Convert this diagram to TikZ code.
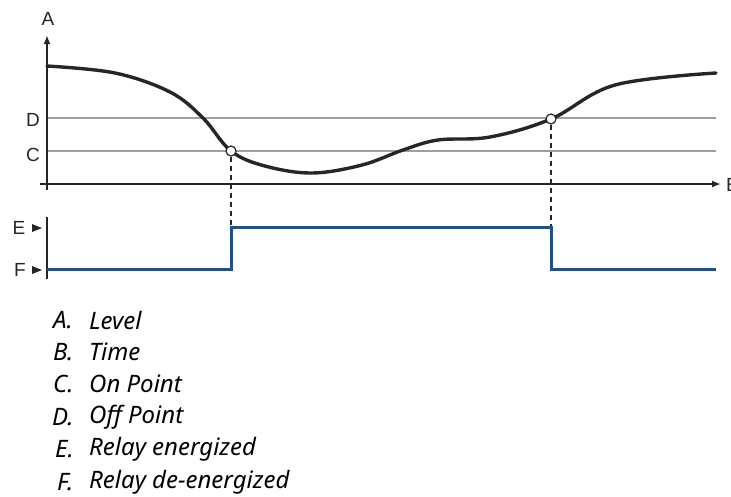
\documentclass[tikz,border=0pt]{standalone}
\usepackage{fontspec}
\setmainfont{Liberation Sans}
\newfontfamily\legendfont{Noto Sans}
\usepackage{xcolor}
\usetikzlibrary{arrows.meta,positioning}

\definecolor{inkgray}{HTML}{262626}
\definecolor{relayblue}{HTML}{1F4F8F}

\begin{document}
\begin{tikzpicture}[
  x=1pt, y=-1pt,
  axis/.style={draw=inkgray, line width=2pt, -{Latex[length=9pt,width=7pt]}},
  setline/.style={draw=gray!75, line width=1.4pt},
  level/.style={draw=inkgray, line width=3.4pt, line cap=round},
  relay/.style={draw=relayblue, line width=3pt},
  switchpt/.style={circle, draw=inkgray, fill=white, line width=1.2pt,
                   minimum size=10pt, inner sep=0pt},
  guide/.style={draw=inkgray, line width=1.1pt, dash pattern=on 5pt off 4pt},
  axlabel/.style={font=\fontsize{19}{19}\selectfont, inner sep=0pt, text=inkgray},
  legkey/.style={anchor=west, inner sep=0pt, font=\legendfont\itshape\fontsize{24}{24}\selectfont},
  legtext/.style={anchor=west, inner sep=0pt, font=\legendfont\itshape\fontsize{24}{24}\selectfont}
]
\useasboundingbox (0,0) rectangle (731,496);

% level chart
\coordinate (yfoot) at (47,190);
\coordinate (ytop) at (47,35);
\coordinate (xleft) at (40,184);
\coordinate (xright) at (721,184);
\coordinate (dleft) at (47,118);
\coordinate (dright) at (716,118);
\coordinate (cleft) at (47,151);
\coordinate (cright) at (716,151);
\draw[setline] (dleft) -- (dright);
\draw[setline] (cleft) -- (cright);
\draw[axis] (yfoot) -- (ytop);
\draw[axis] (xleft) -- (xright);
\node[axlabel] (lA) at (48,19) {A};
\node[axlabel, anchor=west] (lB) at (726,185) {B};
\node[axlabel] (lD) at (33,120) {D};
\node[axlabel] (lC) at (33,155) {C};

\draw[level] plot[smooth, tension=0.6] coordinates {
  (47,66) (115,73) (170,92) (203,118) (231,151)
  (265,166) (312,173) (362,165) (403,150) (438,140) (490,137)
  (551,119) (615,85) (716,73)};

\node[switchpt] (on) at (231,151) {};
\node[switchpt] (off) at (551,119) {};

% relay state
\coordinate (start) at (47,269);
\coordinate (up0) at (231,269);
\coordinate (up1) at (231,227);
\coordinate (dn0) at (551,227);
\coordinate (dn1) at (551,269);
\coordinate (stop) at (716,269);
\draw[guide] (on.south) -- (up1);
\draw[guide] (off.south) -- (dn0);
\draw[draw=inkgray, line width=1.5pt] (47,217) -- (47,279);
\draw[relay] (start) -- (up0) -- (up1) -- (dn0) -- (dn1) -- (stop);
\node[axlabel] (lE) at (19,228) {E};
\node[axlabel] (lF) at (20,270) {F};
\fill[inkgray] (32,224) -- (42,228) -- (32,232) -- cycle;
\fill[inkgray] (32,266) -- (42,270) -- (32,274) -- cycle;

% legend
\node[legkey] (kA) at (53,320) {A.};
\node[legtext] (tA) at (89,320) {Level};
\node[legkey] (kB) at (53,352) {B.};
\node[legtext] (tB) at (89,352) {Time};
\node[legkey] (kC) at (53,384) {C.};
\node[legtext] (tC) at (89,384) {On Point};
\node[legkey] (kD) at (52,417) {D.};
\node[legtext] (tD) at (89,417) {Off Point};
\node[legkey] (kE) at (55,449) {E.};
\node[legtext] (tE) at (89,449) {Relay energized};
\node[legkey] (kF) at (57,482) {F.};
\node[legtext] (tF) at (89,482) {Relay de-energized};
\end{tikzpicture}
\end{document}
